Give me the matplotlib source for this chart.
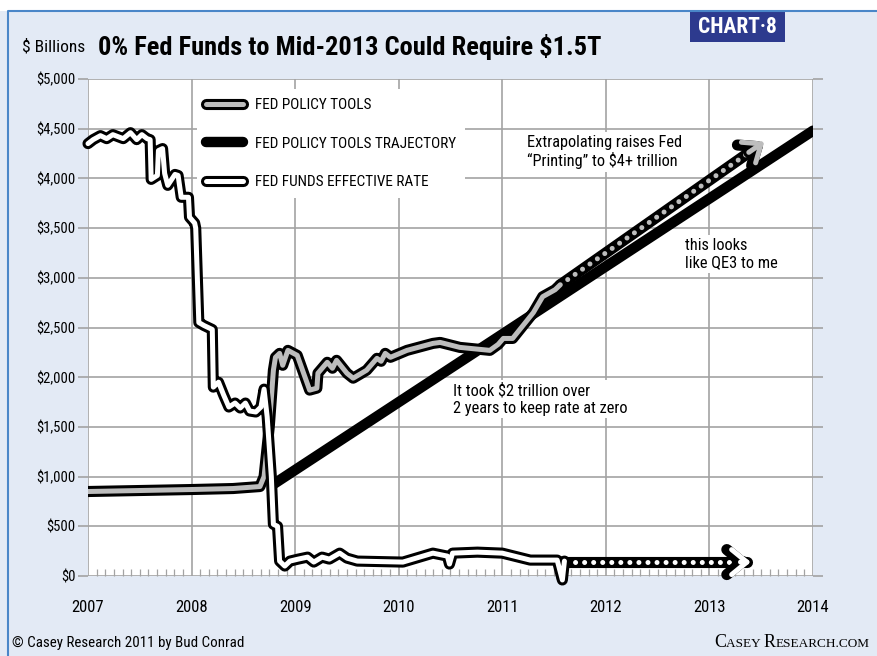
import matplotlib
matplotlib.use('Agg')
import matplotlib.pyplot as plt
import matplotlib.patheffects as pe
from matplotlib.lines import Line2D
from matplotlib.patches import Rectangle
from matplotlib.ticker import MultipleLocator, FuncFormatter
from matplotlib.offsetbox import TextArea, HPacker, AnchoredOffsetbox

plt.rcParams['font.family'] = ['Roboto Condensed', 'DejaVu Sans']
plt.rcParams['font.stretch'] = 'condensed'


###### Data ($ billions, x in years)
# Fed policy tools (balance sheet)
tools_t = [2007.00, 2007.50, 2008.00, 2008.40, 2008.66, 2008.70, 2008.75, 2008.79,
           2008.81, 2008.85, 2008.88, 2008.93, 2009.02, 2009.14, 2009.21, 2009.22,
           2009.31, 2009.36, 2009.40, 2009.50, 2009.56, 2009.69, 2009.79, 2009.83,
           2009.87, 2009.92, 2010.08, 2010.33, 2010.40, 2010.59, 2010.88, 2010.96,
           2011.01, 2011.10, 2011.30, 2011.39, 2011.51, 2011.56]
tools_v = [850, 860, 870, 880, 900, 1000, 1500, 2070,
           2200, 2240, 2120, 2270, 2220, 1870, 1890, 2040,
           2150, 2090, 2170, 2040, 1990, 2070, 2190, 2160,
           2240, 2200, 2270, 2340, 2350, 2300, 2270, 2330,
           2390, 2390, 2650, 2810, 2880, 2930]
# extrapolation of policy tools (dotted arrow)
tools_ext_t = [2011.56, 2013.45]
tools_ext_v = [2930, 4310]
tools_tip = (2013.53, 4370)

# trajectory
traj_t = [2008.80, 2014.00]
traj_v = [930, 4480]

# fed funds effective rate (scaled to $ axis)
ff_t = [2007.00, 2007.05, 2007.12, 2007.18, 2007.24, 2007.34, 2007.41, 2007.47,
        2007.52, 2007.57, 2007.60, 2007.61, 2007.67, 2007.68, 2007.72, 2007.74,
        2007.77, 2007.84, 2007.87, 2007.90, 2007.97, 2007.98, 2008.03, 2008.04,
        2008.07, 2008.12, 2008.20, 2008.21, 2008.26, 2008.31, 2008.36, 2008.42,
        2008.47, 2008.52, 2008.56, 2008.62, 2008.67, 2008.70, 2008.73, 2008.77,
        2008.79, 2008.83, 2008.85, 2008.90, 2008.95, 2009.03, 2009.12, 2009.18,
        2009.26, 2009.33, 2009.43, 2009.50, 2009.60, 2010.04, 2010.33, 2010.47,
        2010.49, 2010.52, 2010.76, 2011.00, 2011.27, 2011.53, 2011.58, 2011.60]
ff_v = [4350, 4390, 4430, 4400, 4440, 4400, 4460, 4390,
        4440, 4400, 4390, 3990, 4030, 4280, 4300, 4050,
        3930, 4040, 4030, 3810, 3810, 3610, 3550, 3500,
        2550, 2520, 2480, 1900, 1950, 1820, 1700, 1740,
        1690, 1740, 1660, 1650, 1700, 1880, 1600, 1000,
        520, 500, 150, 100, 150, 170, 190, 140,
        190, 170, 230, 180, 150, 140, 230, 200,
        120, 230, 240, 230, 160, 160, -40, 150]
ff_ext_t = [2011.62, 2013.36]
ff_ext_v = [140, 140]
ff_tip = (2013.40, 140)

years = list(range(2007, 2015))
yticks = list(range(0, 5001, 500))

labels = ['FED POLICY TOOLS', 'FED POLICY TOOLS TRAJECTORY', 'FED FUNDS EFFECTIVE RATE']


###### Style
bg = '#E3EAF5'
grey_fill = '#BDBDBD'
grid_col = '#A3A3A3'
lw_in, lw_out = 3.6, 8.0
outline = [pe.Stroke(linewidth=lw_out, foreground='black'), pe.Normal()]


###### Figure
fig = plt.figure(figsize=(8.77, 6.56), dpi=100)
fig.patch.set_facecolor(bg)
fig.add_artist(Rectangle((0, 1 - 11/656), 1, 11/656, transform=fig.transFigure,
                         facecolor='white', edgecolor='none'))
fig.add_artist(Line2D([8/877, 8/877, 1], [0, 1 - 11/656, 1 - 11/656],
                      transform=fig.transFigure, color='#4A86C8', lw=1.5))

ax = fig.add_axes([88/877, 1 - 576/656, 725/877, 497/656])
ax.set_facecolor('white')
ax.set_xlim(2007, 2014)
ax.set_ylim(0, 5000)
for s in ax.spines.values():
    s.set_visible(False)
ax.set_axisbelow(True)
ax.grid(True, color=grid_col, lw=1.2)

ax.set_xticks(years)
ax.set_xticklabels([str(y) for y in years], fontsize=12)
ax.xaxis.set_minor_locator(MultipleLocator(1/12))
ax.tick_params(axis='x', which='major', length=0, pad=17)
ax.tick_params(axis='x', which='minor', direction='in', length=5,
               color=grid_col, width=0.9)
ax.set_yticks(yticks)
ax.yaxis.set_major_formatter(FuncFormatter(lambda v, p: '${:,.0f}'.format(v)))
ax.tick_params(axis='y', which='major', left=True, right=True, length=7,
               color=grid_col, width=1.2, labelsize=10.5, pad=2)


###### Lines
ax.plot(traj_t, traj_v, color='black', lw=7.5, solid_capstyle='round', zorder=3)

# dotted extrapolation arrow of policy tools
ax.plot(tools_ext_t, tools_ext_v, color='black', lw=lw_out, solid_capstyle='round', zorder=4)
ax.plot(tools_ext_t, tools_ext_v, color=grey_fill, lw=lw_in, linestyle=(0, (0.01, 1.8)),
        dash_capstyle='round', zorder=4)
ax.plot(tools_t, tools_v, color=grey_fill, lw=lw_in, solid_capstyle='round',
        solid_joinstyle='round', path_effects=outline, zorder=4)

# dotted extrapolation arrow of fed funds
ax.plot(ff_ext_t, ff_ext_v, color='black', lw=lw_out, solid_capstyle='round', zorder=5)
ax.plot(ff_ext_t, ff_ext_v, color='white', lw=lw_in, linestyle=(0, (0.01, 1.8)),
        dash_capstyle='round', zorder=5)
ax.plot(ff_t, ff_v, color='white', lw=lw_in, solid_capstyle='round',
        solid_joinstyle='round', path_effects=outline, zorder=5, clip_on=False)

# arrow heads (open chevrons, black edged); short shaft ending at the tip
heads = [((2013.38, 4262), tools_tip, grey_fill, 4),
         ((2013.30, 140), ff_tip, 'white', 5)]
for start, tip, col, z in heads:
    for lw, c in [(lw_out, 'black'), (lw_in, col)]:
        ax.annotate('', xy=tip, xytext=start, zorder=z, annotation_clip=False,
                    arrowprops=dict(arrowstyle='->,head_length=0.55,head_width=0.45',
                                    mutation_scale=20, lw=lw, color=c,
                                    shrinkA=0, shrinkB=0,
                                    capstyle='round', joinstyle='round'))


###### Legend (white box, kept under the data lines)
h_tools = Line2D([], [], color=grey_fill, lw=lw_in, solid_capstyle='round', path_effects=outline)
h_traj = Line2D([], [], color='black', lw=7.5, solid_capstyle='round')
h_ff = Line2D([], [], color='white', lw=lw_in, solid_capstyle='round', path_effects=outline)
leg = ax.legend([h_tools, h_traj, h_ff], labels, loc='upper left',
                bbox_to_anchor=(0.14, 0.995), fontsize=11, handlelength=2.4,
                labelspacing=1.6, handletextpad=0.8, borderpad=0.6,
                frameon=True, fancybox=False, framealpha=1)
leg.get_frame().set_facecolor('white')
leg.get_frame().set_edgecolor('none')
leg.set_zorder(2.5)


###### Annotations
box = dict(facecolor='white', edgecolor='none', pad=2)
ax.text(2011.24, 4265, 'Extrapolating raises Fed\n\u201cPrinting\u201d to $4+ trillion',
        fontsize=11.8, ha='left', va='center', bbox=box, zorder=2)
ax.text(2012.76, 3240, 'this looks\nlike QE3 to me',
        fontsize=11.8, ha='left', va='center', bbox=box, zorder=2)
ax.text(2010.52, 1780, 'It took $2 trillion over\n2 years to keep rate at zero',
        fontsize=11.8, ha='left', va='center', bbox=box, zorder=2)


###### Titles and footer
fig.text(22/877, 1 - 47/656, '$ Billions', fontsize=12.5, va='center')
fig.text(98/877, 1 - 47/656, '0% Fed Funds to Mid-2013 Could Require $1.5T',
         fontsize=19, fontweight='bold', va='center')
fig.add_artist(Rectangle((690/877, 1 - 42/656), 95/877, 30/656, transform=fig.transFigure,
                         facecolor='#2D3A8E', edgecolor='none'))
fig.text(737/877, 1 - 27/656, 'CHART\u00b78', fontsize=15.5, fontweight='bold',
         color='white', ha='center', va='center')

fig.text(12/877, 1 - 643/656, '\u00a9 Casey Research 2011 by Bud Conrad',
         fontsize=10.8, va='center')
parts = [('C', 13), ('ASEY ', 9.5), ('R', 13), ('ESEARCH.COM', 9.5)]
areas = [TextArea(t, textprops=dict(fontsize=s, family='Liberation Serif', stretch='normal'))
         for t, s in parts]
pack = HPacker(children=areas, align='baseline', pad=0, sep=0)
anch = AnchoredOffsetbox(loc='lower right', child=pack, frameon=False, pad=0, borderpad=0,
                         bbox_to_anchor=(870/877, 5/656), bbox_transform=fig.transFigure)
fig.add_artist(anch)

plt.savefig('out.png', dpi=100, facecolor=fig.get_facecolor())
